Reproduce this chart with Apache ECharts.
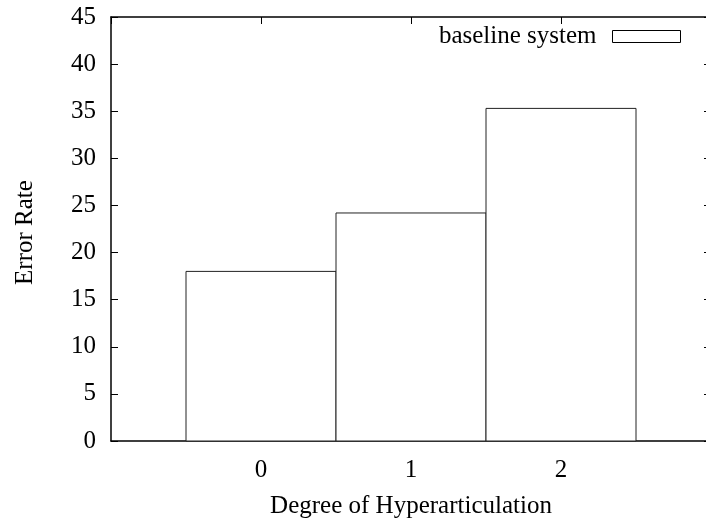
<!DOCTYPE html>
<html>
<head>
<meta charset="utf-8">
<script src="https://cdn.jsdelivr.net/npm/echarts@6/dist/echarts.min.js"></script>
<style>html,body{margin:0;padding:0;background:#fff;}#c{width:706px;height:519px;}</style>
</head>
<body>
<div id="c"></div>
<script>
const categories = [0, 1, 2];
const tickLabels = ['0', '1', '2'];
const baselineSystem = [18.0, 24.2, 35.3];
const yTicks = [0, 5, 10, 15, 20, 25, 30, 35, 40, 45];

const FONT = 'Liberation Serif';
const FS = 25;
const chart = echarts.init(document.getElementById('c'), null, {renderer: 'canvas'});
const data = categories.map((c, i) => [c, baselineSystem[i]]);

const xCommon = {
  type: 'value', min: -1, max: 3, interval: 1,
  axisLine: {show: true, onZero: false, lineStyle: {color: '#000', width: 1.5}},
  axisTick: {show: true, inside: true, length: 7, lineStyle: {color: '#000', width: 1}},
  splitLine: {show: false}
};
const yCommon = {
  type: 'value', min: 0, max: 45, interval: 5,
  axisLine: {show: true, onZero: false, lineStyle: {color: '#000', width: 1.5}},
  axisTick: {show: true, inside: true, length: 7, lineStyle: {color: '#000', width: 1}},
  splitLine: {show: false}
};

chart.setOption({
  backgroundColor: '#fff',
  animation: false,
  grid: {left: 111, top: 17, right: -5, bottom: 78, containLabel: false, outerBoundsMode: 'none'},
  legend: {
    show: true,
    right: 25, top: 24, padding: 0,
    align: 'right',
    itemWidth: 68, itemHeight: 12,
    textStyle: {fontFamily: FONT, fontSize: FS, color: '#000', padding: [0, 11, 0, 0]},
    data: [{name: 'baseline system', icon: 'rect', itemStyle: {color: '#fff', borderColor: '#000', borderWidth: 1}}]
  },
  xAxis: [
    Object.assign({}, xCommon, {
      position: 'bottom',
      name: 'Degree of Hyperarticulation', nameLocation: 'middle', nameGap: 53,
      nameTextStyle: {fontFamily: FONT, fontSize: FS, color: '#000'},
      axisLabel: {show: true, fontFamily: FONT, fontSize: FS, color: '#000', margin: 17,
        showMinLabel: false, showMaxLabel: false,
        formatter: v => { const i = categories.indexOf(v); return i >= 0 ? tickLabels[i] : ''; }}
    }),
    Object.assign({}, xCommon, {position: 'top', axisLabel: {show: false}})
  ],
  yAxis: [
    Object.assign({}, yCommon, {
      position: 'left',
      name: 'Error Rate', nameLocation: 'middle', nameGap: 73, nameRotate: 90,
      nameTextStyle: {fontFamily: FONT, fontSize: FS, color: '#000', padding: [0, 7, 0, 0]},
      axisLabel: {show: true, fontFamily: FONT, fontSize: FS, color: '#000', margin: 15,
        formatter: v => yTicks.indexOf(v) >= 0 ? String(v) : ''}
    }),
    Object.assign({}, yCommon, {position: 'right', axisLabel: {show: false}})
  ],
  series: [{
    name: 'baseline system',
    type: 'custom',
    xAxisIndex: 0, yAxisIndex: 0,
    itemStyle: {color: '#fff', borderColor: '#000', borderWidth: 1},
    renderItem: function (params, api) {
      const x = api.value(0), y = api.value(1);
      const p0 = api.coord([x - 0.5, y]);
      const p1 = api.coord([x + 0.5, 0]);
      return {
        type: 'rect',
        shape: {x: p0[0], y: p0[1], width: p1[0] - p0[0], height: p1[1] - p0[1]},
        style: {fill: '#fff', stroke: '#222', lineWidth: 1}
      };
    },
    data: data
  }]
});
</script>
</body>
</html>
